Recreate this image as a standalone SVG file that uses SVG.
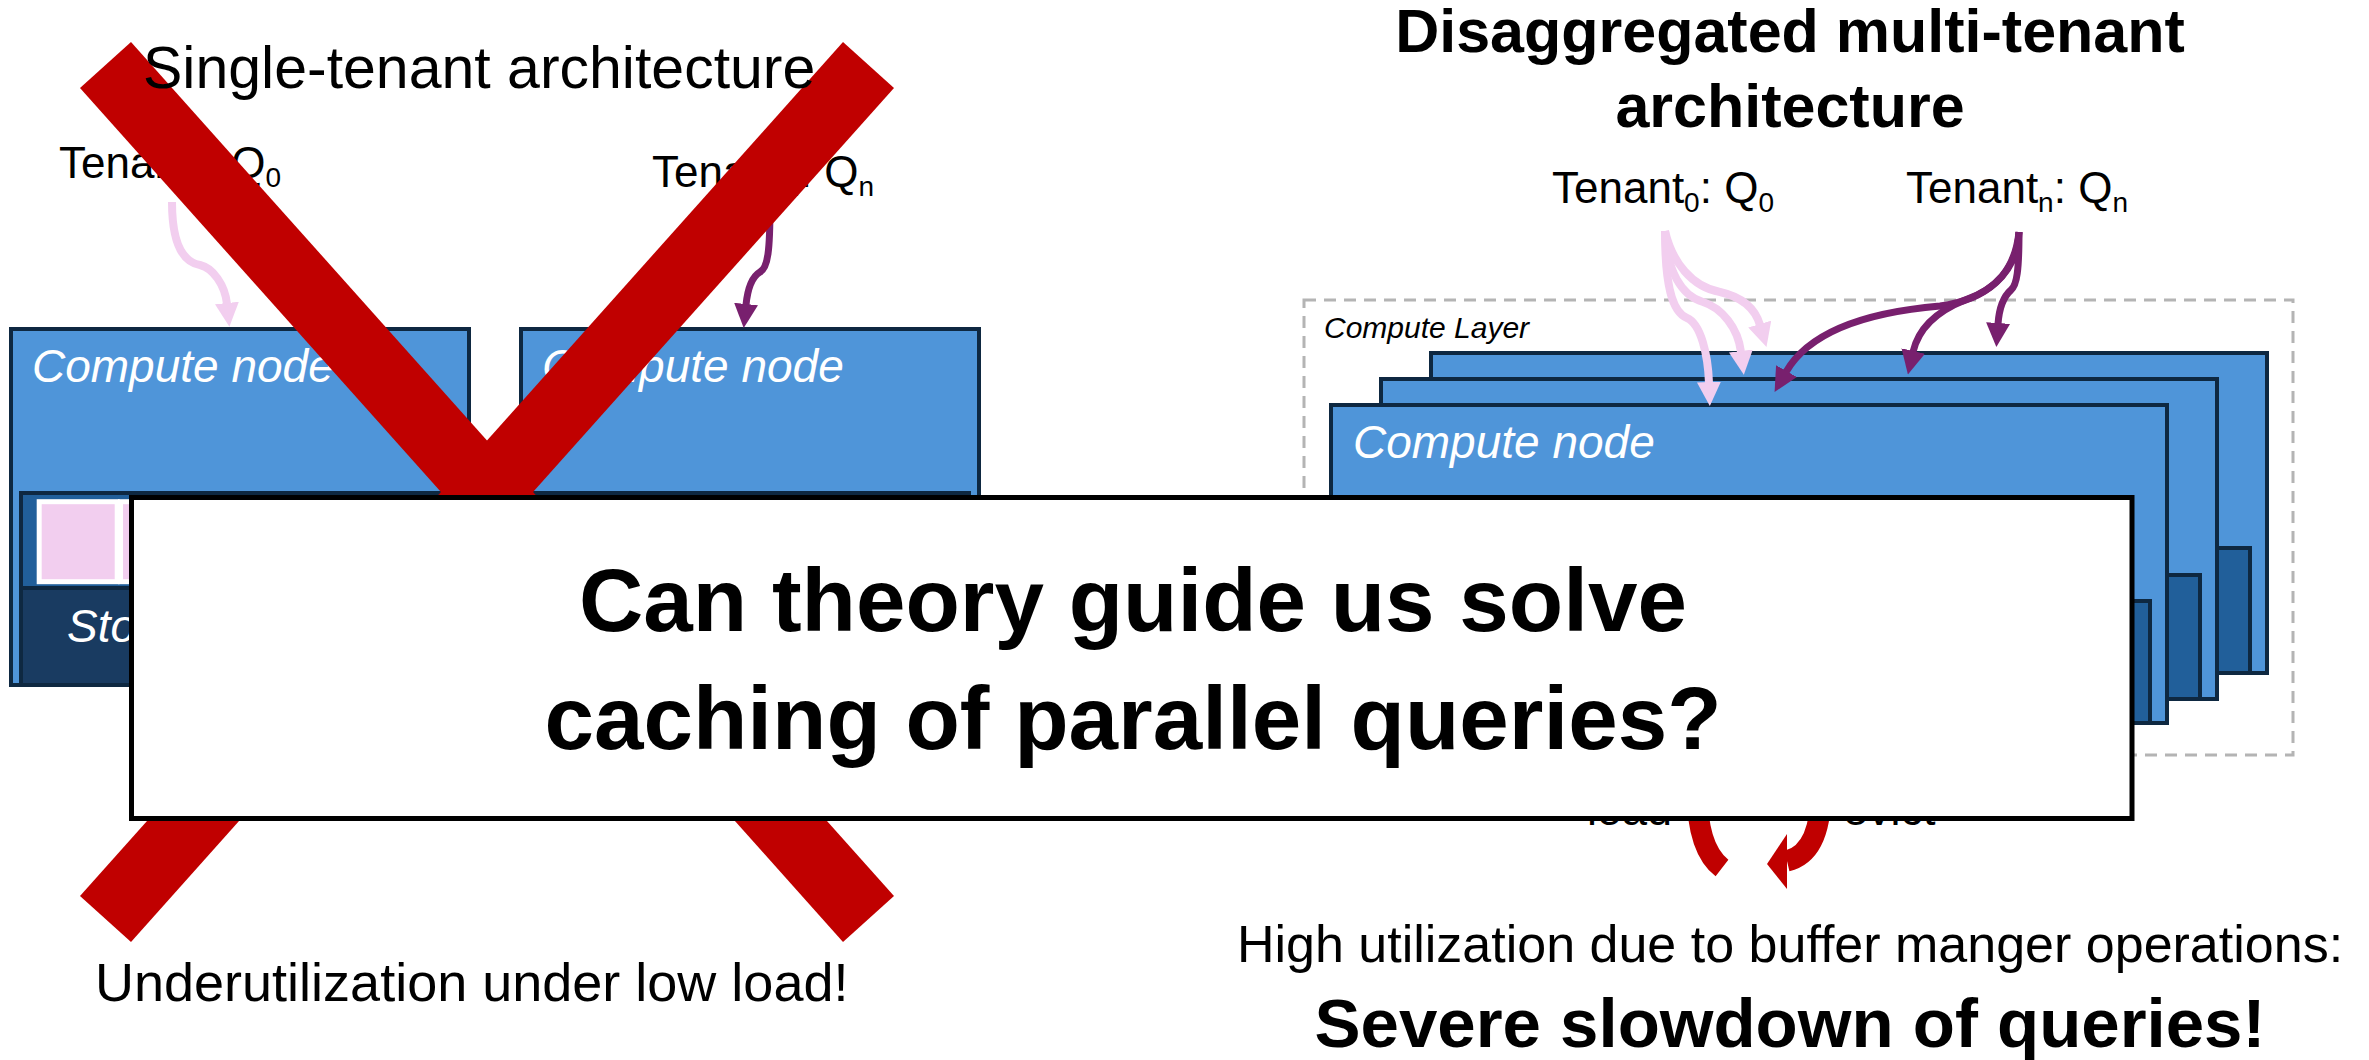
<svg xmlns="http://www.w3.org/2000/svg" width="2369" height="1060" viewBox="0 0 2369 1060">
<defs>
<style>
text{font-family:"Liberation Sans",Arial,sans-serif;fill:#000000}
.node{fill:#4F95D9;stroke:#0E2841;stroke-width:4}
.buf{fill:#215F9A;stroke:#0E2841;stroke-width:4}
.sto{fill:#193B61;stroke:#0E2841;stroke-width:4}
.page{fill:#F2CEEF;stroke:#FFFFFF;stroke-width:5}
.nlabel{font-style:italic;font-size:46px;fill:#FFFFFF}
.tenant{font-size:44px}
.sub{font-size:28px}
.pink{fill:none;stroke:#F2CEEF;stroke-width:8;marker-end:url(#ahPink)}
.purple{fill:none;stroke:#78206E;stroke-width:7;marker-end:url(#ahPurple)}
.cross{fill:#C00000}
.cyc{fill:none;stroke:#C00000;stroke-width:21}
.layer{fill:none;stroke:#B4B4B4;stroke-width:3;stroke-dasharray:12 8}
.bold{font-weight:bold}
</style>
<marker id="ahPink" markerUnits="userSpaceOnUse" markerWidth="24" markerHeight="24" viewBox="0 0 24 24" refX="1" refY="12" orient="auto"><path d="M0,0 L24,12 L0,24 z" fill="#F2CEEF"/></marker>
<marker id="ahPurple" markerUnits="userSpaceOnUse" markerWidth="24" markerHeight="24" viewBox="0 0 24 24" refX="1" refY="12" orient="auto"><path d="M0,0 L24,12 L0,24 z" fill="#78206E"/></marker>
</defs>
<rect x="0" y="0" width="2369" height="1060" fill="#FFFFFF"/>

<!-- Left: single-tenant nodes -->
<g id="node-compute-a">
<rect class="node" x="11" y="329" width="458" height="356"/>
<text class="nlabel" x="32" y="382">Compute node</text>
<rect class="buf" x="21" y="493" width="438" height="95"/>
<rect class="page" x="39.2" y="501.7" width="78" height="80"/>
<rect class="page" x="120.5" y="501.7" width="78" height="80"/>
<rect class="sto" x="21" y="588" width="438" height="97"/>
<text class="nlabel" x="67" y="642">Storage</text>
</g>
<g id="node-compute-b">
<rect class="node" x="521" y="329" width="458" height="356"/>
<text class="nlabel" x="542" y="382">Compute node</text>
<rect class="buf" x="531" y="493" width="438" height="95"/>
<rect class="sto" x="531" y="588" width="438" height="97"/>
</g>
<g id="node-tenant0-left">
<text class="tenant" x="59" y="178">Tenant<tspan class="sub" dy="9">0</tspan><tspan dy="-9">: Q</tspan><tspan class="sub" dy="9">0</tspan></text>
</g>
<g id="node-tenantn-left">
<text class="tenant" x="652" y="187">Tenant<tspan class="sub" dy="9">n</tspan><tspan dy="-9">: Q</tspan><tspan class="sub" dy="9">n</tspan></text>
</g>

<!-- Right: disaggregated multi-tenant -->
<g id="node-title-right">
<text class="bold" font-size="61" x="1790" y="52" text-anchor="middle">Disaggregated multi-tenant</text>
<text class="bold" font-size="61" x="1790" y="127" text-anchor="middle">architecture</text>
</g>
<g id="node-tenant0-right">
<text class="tenant" x="1552" y="203">Tenant<tspan class="sub" dy="9">0</tspan><tspan dy="-9">: Q</tspan><tspan class="sub" dy="9">0</tspan></text>
</g>
<g id="node-tenantn-right">
<text class="tenant" x="1906" y="203">Tenant<tspan class="sub" dy="9">n</tspan><tspan dy="-9">: Q</tspan><tspan class="sub" dy="9">n</tspan></text>
</g>
<g id="node-compute-layer">
<rect class="layer" x="1304" y="300" width="989" height="455"/>
<text x="1324" y="338" font-size="30" font-style="italic">Compute Layer</text>
</g>
<g id="node-compute-r3">
<rect class="node" x="1431" y="353" width="836" height="320"/>
<rect class="buf" x="1447" y="548" width="803" height="125"/>
</g>
<g id="node-compute-r2">
<rect class="node" x="1381" y="379" width="836" height="320"/>
<rect class="buf" x="1397" y="575" width="803" height="124"/>
</g>
<g id="node-compute-r1">
<rect class="node" x="1331" y="405" width="836" height="318"/>
<text class="nlabel" x="1353" y="458">Compute node</text>
<rect class="buf" x="1347" y="601" width="803" height="122"/>
</g>
<g id="node-load-evict">
<text x="1587" y="825" font-size="45">load</text>
<text x="1843" y="825" font-size="45">evict</text>
</g>

<g id="connectors">
<path class="pink" d="M172,202 C172,245 183,262 200,265 C213,268 225,285 227,304"/>
<path class="purple" d="M770,205 C770,250 768,268 760,272 C750,278 747,295 746,305"/>
<path class="pink" d="M1665,231 C1665,285 1672,312 1687,318 C1701,324 1708,355 1709,383"/>
<path class="pink" d="M1665,231 C1667,272 1682,296 1703,302 C1722,308 1738,328 1741,352"/>
<path class="pink" d="M1665,231 C1672,262 1692,287 1720,292 C1742,297 1755,308 1760,325"/>
<path class="purple" d="M2019,232 C2017,275 1985,300 1940,306 C1870,312 1810,330 1786,372"/>
<path class="purple" d="M2019,232 C2015,270 1995,290 1965,300 C1935,312 1918,330 1913,352"/>
<path class="purple" d="M2019,232 C2019,270 2017,285 2011,290 C2003,297 1999,310 1998,324"/>
<path class="cyc" d="M1697,790 C1697,830 1705,855 1722,868"/>
<path class="cyc" d="M1821,790 C1821,835 1808,856 1787,861"/>
<polygon fill="#C00000" points="1787,834 1767,864 1787,889"/>
</g>

<!-- Red cross over single-tenant -->
<g id="node-cross">
<polygon class="cross" points="80,88 131,42 894,896 843,942"/>
<polygon class="cross" points="843,42 894,88 131,942 80,896"/>
</g>
<g id="node-title-left">
<text x="143" y="88" font-size="59">Single-tenant architecture</text>
</g>

<!-- Question overlay -->
<g id="node-question">
<rect x="131.5" y="497.5" width="2000.5" height="321" fill="#FFFFFF" stroke="#000000" stroke-width="5"/>
<text class="bold" font-size="89" x="1133" y="631" text-anchor="middle">Can theory guide us solve</text>
<text class="bold" font-size="89" x="1133" y="749" text-anchor="middle">caching of parallel queries?</text>
</g>

<g id="node-under">
<text x="95" y="1001" font-size="54">Underutilization under low load!</text>
</g>
<g id="node-slowdown">
<text x="1790" y="962" font-size="52" text-anchor="middle">High utilization due to buffer manger operations:</text>
<text class="bold" x="1790" y="1047" font-size="69" text-anchor="middle">Severe slowdown of queries!</text>
</g>
</svg>
